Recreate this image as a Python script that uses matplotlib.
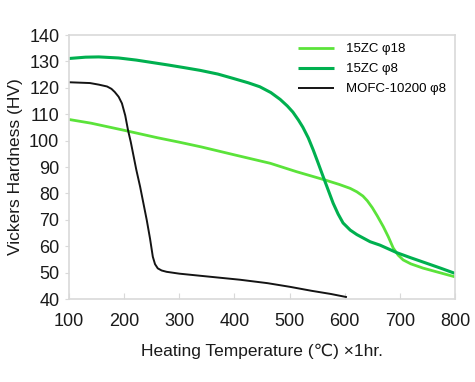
import matplotlib
matplotlib.use("Agg")
import matplotlib.pyplot as plt

plt.rcParams["font.family"] = ["Liberation Sans", "DejaVu Sans"]

# 15ZC φ18
temp_zc18 = [100, 140, 200, 260, 300, 340, 400, 465, 513, 564, 590, 610, 622, 633, 641, 650, 659, 670, 679, 688, 697, 706, 720, 742, 770, 800]
hv_zc18 = [108, 106.6, 103.9, 101.1, 99.4, 97.6, 94.6, 91.4, 88.2, 85.1, 83.4, 81.9, 80.6, 79.0, 77.2, 74.6, 71.5, 67.4, 63.6, 59.3, 56.6, 54.8, 53.3, 51.7, 50.1, 48.4]

# 15ZC φ8
temp_zc8 = [100, 130, 154, 190, 222, 250, 281, 310, 338, 370, 397, 425, 446, 466, 483, 496, 506, 516, 524, 534, 543, 552, 561, 570, 579, 588, 597, 610, 622, 646, 664, 695, 720, 749, 775, 800]
hv_zc8 = [131.1, 131.6, 131.7, 131.3, 130.5, 129.6, 128.6, 127.6, 126.6, 125.2, 123.6, 121.9, 120.4, 118.2, 115.6, 113.1, 110.8, 107.8, 105.1, 101.0, 96.4, 91.4, 86.3, 81.3, 76.3, 72.2, 68.8, 66.1, 64.4, 61.7, 60.4, 57.5, 55.6, 53.5, 51.6, 49.7]

# MOFC-10200 φ8
temp_mofc = [100, 138, 154, 169, 177, 183, 190, 196, 202, 207, 212, 216, 222, 229, 235, 241, 247, 252, 256, 261, 268, 277, 300, 338, 410, 460, 501, 540, 575, 604]
hv_mofc = [122.1, 121.8, 121.2, 120.5, 119.6, 118.4, 116.6, 114.1, 109.5, 104.0, 99.5, 95.3, 89.0, 82.5, 76.2, 69.9, 62.8, 56.0, 53.2, 51.6, 50.8, 50.3, 49.6, 48.8, 47.3, 46.0, 44.6, 43.1, 41.9, 40.7]

labels = ["15ZC φ18", "15ZC φ8", "MOFC-10200 φ8"]
colors = ["#5be33a", "#00b04f", "#141414"]
widths = [2.0, 2.2, 1.4]

fig = plt.figure(figsize=(4.75, 3.82), dpi=100)
ax = fig.add_axes([69 / 475, (382 - 299) / 382, (455 - 69) / 475, (299 - 35) / 382])

for t, hv, lab, c, w in zip([temp_zc18, temp_zc8, temp_mofc], [hv_zc18, hv_zc8, hv_mofc], labels, colors, widths):
    ax.plot(t, hv, color=c, lw=w, label=lab, solid_capstyle="butt", solid_joinstyle="round")

ax.set_xlim(100, 800)
ax.set_ylim(40, 140)
ax.set_xticks(range(100, 801, 100))
ax.set_yticks(range(40, 141, 10))
for s in ax.spines.values():
    s.set_color("#d9d9d9")
    s.set_linewidth(1.2)
ax.tick_params(axis="x", direction="in", length=4, color="#d9d9d9", labelsize=13, pad=10, labelcolor="#1a1a1a")
ax.tick_params(axis="y", direction="out", length=3, color="#d9d9d9", labelsize=13, pad=4, labelcolor="#1a1a1a")

ax.set_xlabel("Heating Temperature (℃) ×1hr.", fontsize=12.5, labelpad=10, color="#1a1a1a")
ax.set_ylabel("Vickers Hardness (HV)", fontsize=12.5, labelpad=4, color="#1a1a1a")

ax.legend(loc="upper right", bbox_to_anchor=(1.0, 1.005), frameon=False, fontsize=9.5,
          handlelength=2.7, handletextpad=0.9, labelspacing=0.6, borderaxespad=0.3)

fig.savefig("out.png", dpi=100)
